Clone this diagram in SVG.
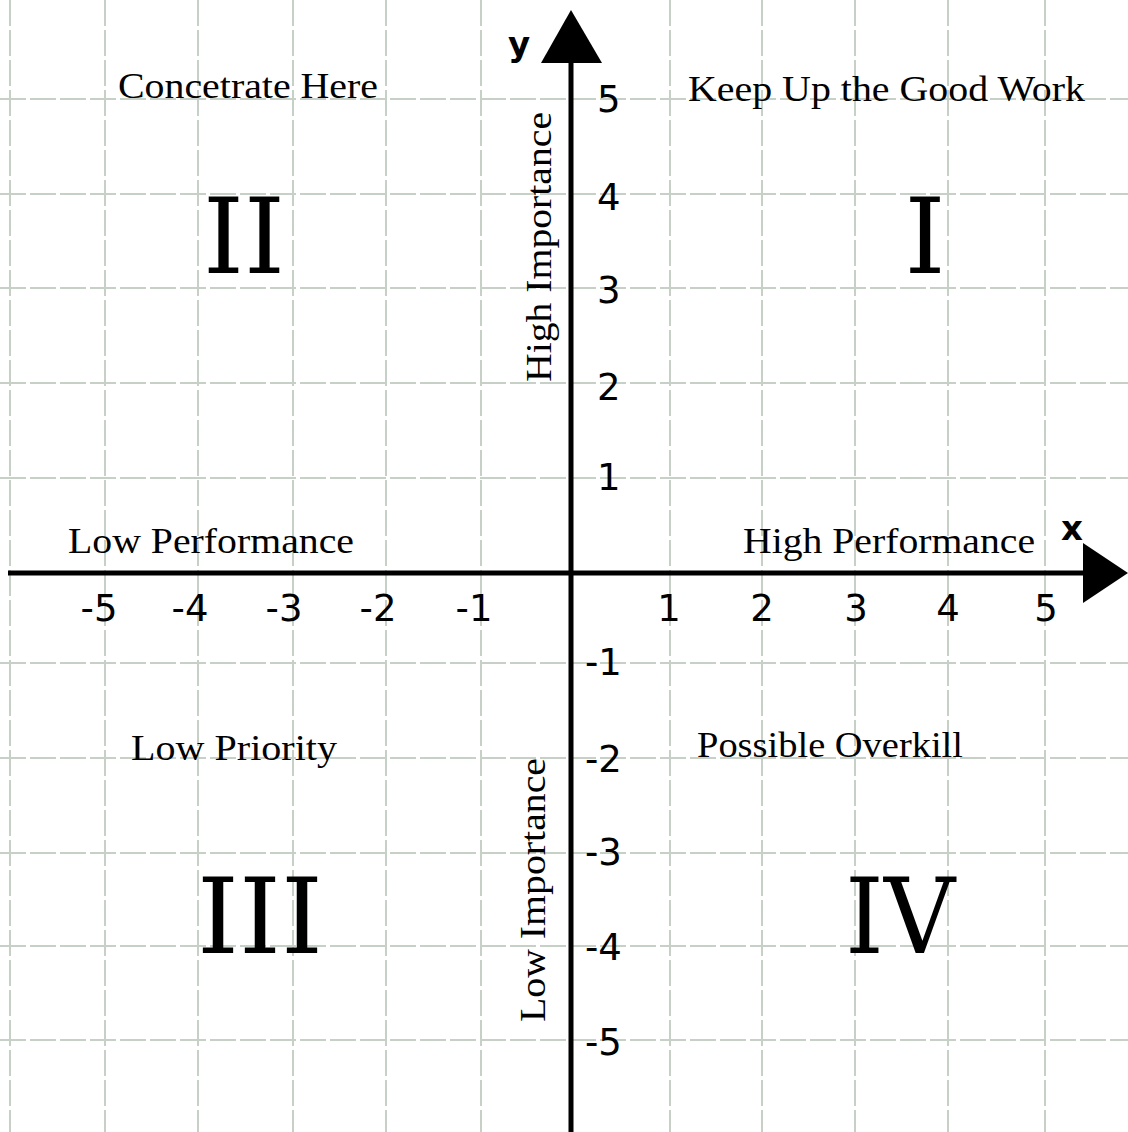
<svg xmlns="http://www.w3.org/2000/svg" width="1128" height="1132" viewBox="0 0 1128 1132">
<style>
.grid line{stroke:#c6d0c6;stroke-width:2;stroke-dasharray:26 4}
.axis{stroke:#000;stroke-width:5;fill:none}
.head{fill:#000}
.tick{font-family:"DejaVu Sans",Verdana,sans-serif;font-size:37px;fill:#000}
.lab{font-family:"Liberation Serif","Times New Roman",serif;font-size:36px;fill:#000}
.rom{font-family:"DejaVu Serif","Liberation Serif",serif;font-size:104px;fill:#000}
.axl{font-family:"DejaVu Sans",sans-serif;font-size:34px;font-weight:bold;fill:#000}
</style>
<rect width="1128" height="1132" fill="#fff"/>
<g class="grid" id="grid">
<line x1="10" y1="0" x2="10" y2="1132"/>
<line x1="105" y1="0" x2="105" y2="1132"/>
<line x1="198" y1="0" x2="198" y2="1132"/>
<line x1="293" y1="0" x2="293" y2="1132"/>
<line x1="386" y1="0" x2="386" y2="1132"/>
<line x1="481" y1="0" x2="481" y2="1132"/>
<line x1="670" y1="0" x2="670" y2="1132"/>
<line x1="762" y1="0" x2="762" y2="1132"/>
<line x1="855" y1="0" x2="855" y2="1132"/>
<line x1="948" y1="0" x2="948" y2="1132"/>
<line x1="1045" y1="0" x2="1045" y2="1132"/>
<line x1="0" y1="99" x2="1128" y2="99"/>
<line x1="0" y1="194" x2="1128" y2="194"/>
<line x1="0" y1="288" x2="1128" y2="288"/>
<line x1="0" y1="383" x2="1128" y2="383"/>
<line x1="0" y1="478" x2="1128" y2="478"/>
<line x1="0" y1="663" x2="1128" y2="663"/>
<line x1="0" y1="758" x2="1128" y2="758"/>
<line x1="0" y1="853" x2="1128" y2="853"/>
<line x1="0" y1="946" x2="1128" y2="946"/>
<line x1="0" y1="1040" x2="1128" y2="1040"/>
</g>
<g id="connectors">
<line class="axis" x1="8" y1="573" x2="1090" y2="573"/>
<polygon class="head" points="1083,543 1128,573 1083,603"/>
<line class="axis" x1="571" y1="55" x2="571" y2="1132"/>
<polygon class="head" points="541,63 571,10 602,63"/>
</g>
<g id="axis-labels">
<text class="axl" x="508" y="56">y</text>
<text class="axl" x="1061" y="540">x</text>
</g>
<g id="x-ticks" class="tick" text-anchor="middle">
<text x="99" y="621">-5</text>
<text x="190" y="621">-4</text>
<text x="284" y="621">-3</text>
<text x="378" y="621">-2</text>
<text x="474" y="621">-1</text>
<text x="669" y="621">1</text>
<text x="762" y="621">2</text>
<text x="856" y="621">3</text>
<text x="948" y="621">4</text>
<text x="1046" y="621">5</text>
</g>
<g id="y-ticks" class="tick">
<text x="597" y="112">5</text>
<text x="597" y="210">4</text>
<text x="597" y="303">3</text>
<text x="597" y="400">2</text>
<text x="597" y="490">1</text>
<text x="585" y="675">-1</text>
<text x="585" y="772">-2</text>
<text x="585" y="865">-3</text>
<text x="585" y="960">-4</text>
<text x="585" y="1055">-5</text>
</g>
<g id="q1">
<text class="lab" x="688" y="101" textLength="397" lengthAdjust="spacingAndGlyphs">Keep Up the Good Work</text>
<text class="rom" x="925" y="273" text-anchor="middle">I</text>
</g>
<g id="q2">
<text class="lab" x="118" y="98" textLength="260" lengthAdjust="spacingAndGlyphs">Concetrate Here</text>
<text class="rom" x="203" y="273" textLength="82" lengthAdjust="spacingAndGlyphs">II</text>
</g>
<g id="q3">
<text class="lab" x="131" y="760" textLength="206" lengthAdjust="spacingAndGlyphs">Low Priority</text>
<text class="rom" x="197" y="953" textLength="126" lengthAdjust="spacingAndGlyphs">III</text>
</g>
<g id="q4">
<text class="lab" x="697" y="757" textLength="266" lengthAdjust="spacingAndGlyphs">Possible Overkill</text>
<text class="rom" x="845" y="953" textLength="110" lengthAdjust="spacingAndGlyphs">IV</text>
</g>
<g id="perf-labels">
<text class="lab" x="68" y="553" textLength="286" lengthAdjust="spacingAndGlyphs">Low Performance</text>
<text class="lab" x="743" y="553" textLength="292" lengthAdjust="spacingAndGlyphs">High Performance</text>
</g>
<g id="importance-labels">
<text class="lab" transform="translate(551,382) rotate(-90)" textLength="270" lengthAdjust="spacingAndGlyphs">High Importance</text>
<text class="lab" transform="translate(545,1022) rotate(-90)" textLength="264" lengthAdjust="spacingAndGlyphs">Low Importance</text>
</g>
</svg>
